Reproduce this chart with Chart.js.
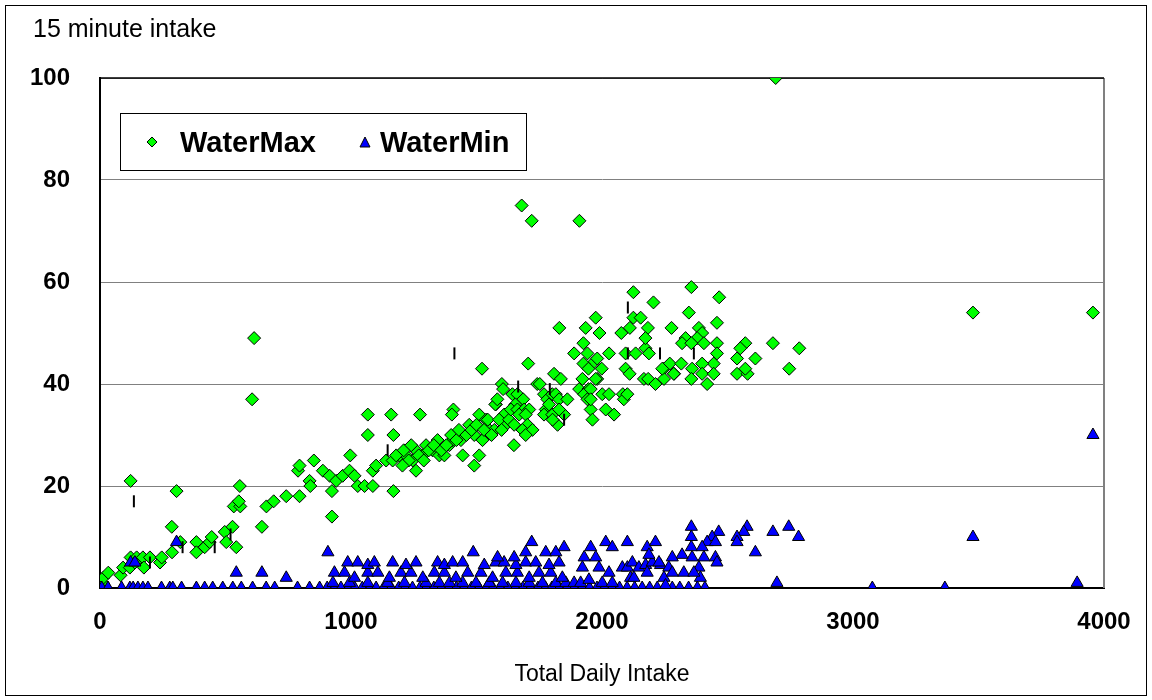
<!DOCTYPE html>
<html>
<head>
<meta charset="utf-8">
<script src="https://cdn.jsdelivr.net/npm/chart.js@4.4.1/dist/chart.umd.min.js"></script>
<style>
  html, body { margin: 0; padding: 0; background: #fff; }
  #wrap { position: relative; width: 1152px; height: 700px; font-family: "Liberation Sans", Arial, sans-serif; }
  #cadre { position: absolute; left: 5px; top: 5px; width: 1140px; height: 689px; border: 1px solid #000; pointer-events: none; }
  #titre { position: absolute; left: 33px; top: 14px; font-size: 25px; color: #000; }
  #legende { position: absolute; left: 120px; top: 113px; width: 405px; height: 56px; border: 1px solid #000; background: #fff;
             display: flex; align-items: center; font-weight: bold; font-size: 29px; color: #000; }
  #legende svg.m1 { margin-left: 25px; margin-right: 22px; }
  #legende svg.m2 { margin-left: 43px; margin-right: 9px; }
</style>
</head>
<body>
<div id="wrap">
  <canvas id="graf" width="1152" height="700"></canvas>
  <div id="cadre"></div>
  <div id="titre">15 minute intake</div>
  <div id="legende">
    <svg class="m1" width="12" height="12"><polygon points="6,1 11,6 6,11 1,6" fill="#00FF00" stroke="#000" stroke-width="1"/></svg>
    <span>WaterMax</span>
    <svg class="m2" width="12" height="12"><polygon points="6,1 11,11 1,11" fill="#0000FF" stroke="#000" stroke-width="1"/></svg>
    <span>WaterMin</span>
  </div>
</div>
<script>
// --- Datos --------------------------------------------------------------------

const X_TICKS = [0, 1000, 2000, 3000, 4000];
const Y_TICKS = [0, 20, 40, 60, 80, 100];

// WaterMax (rombos verdes)
const maxX = [
  10, 13, 33, 82, 92, 119, 122, 146, 171, 199, 139, 175, 122, 239, 246, 287, 286, 305, 320, 384,
  384, 417, 437, 445, 497, 503, 528, 543, 533, 559, 553, 557, 614, 606, 645, 663, 692, 742, 795, 789,
  795, 852, 888, 915, 835, 838, 924, 924, 941, 967, 994, 997, 1014, 1027, 1054, 1087, 1087, 1100, 1067, 1067,
  1160, 1169, 1169, 1275, 1408, 1402,
  1140, 1166, 1193, 1220, 1246, 1259, 1259, 1299, 1286, 1325, 1352, 1345, 1372, 1392, 1405, 1399, 1438, 1445, 1471, 1491,
  1511, 1491, 1524, 1511, 1538, 1551, 1571, 1577, 1617, 1610, 1649, 1180, 1210, 1230, 1270, 1310, 1330, 1360, 1380, 1420,
  1430, 1460, 1480, 1500, 1530, 1545, 1560, 1590, 1600, 1630, 1205, 1240, 1290,
  1522, 1706, 1601, 1606, 1742, 1575, 1583, 1643, 1663, 1686, 1655, 1637, 1663, 1690, 1710, 1670, 1696, 1703, 1650, 1683,
  1723, 1696, 1769, 1782, 1802, 1816, 1829, 1776, 1769, 1802, 1823, 1849, 1829, 1862, 1809, 1836, 1752, 1789, 1803,
  1889, 1926, 1942, 1962, 1981, 2028, 1926, 1946, 1999, 1981, 2094, 2110, 2094, 2134, 2173, 2187, 1909, 1946, 1975, 1929,
  1942, 1955, 1962, 2001, 2028, 2015, 2048, 2083, 2087, 2101, 1830, 1935, 1975, 1990, 2125, 2205, 2077, 2111, 2125, 2154,
  2183, 2173, 2277, 1680, 1720, 1910, 2692, 2247, 2270, 2287, 2316, 2167, 2184, 2213, 2247, 1922, 1955, 1955,
  2356, 2467, 2346, 2458, 2386, 2399, 2333, 2379, 2319, 2356, 2406, 2458, 2571, 2551, 2538, 2611, 2681, 2786, 2445, 2399,
  2359, 2240, 2286, 2356, 2399, 2419, 2458, 2445, 2538, 2580, 2571, 2746, 3478, 3956
];
const maxY = [
  1, 2, 3, 2.5, 4, 4, 6, 6, 6, 6, 5, 4, 21, 5, 6, 7, 12, 19, 9, 9,
  7, 8, 9, 10, 11, 9, 12, 8, 16, 16, 17, 20, 49, 37, 12, 16, 17, 18, 18, 23,
  24, 25, 23, 22, 21, 20, 19, 14, 21, 22, 23, 26, 22, 20, 20, 20, 23, 24, 34, 30,
  34, 30, 19, 34, 35, 34,
  25, 25, 26, 26, 25, 23, 27, 28, 26, 27, 26, 29, 26, 28, 29, 30, 29, 26, 32, 30,
  26, 24, 29, 34, 33, 31, 31, 36, 32, 34, 28, 26, 27, 25, 26, 27, 28, 27, 28, 29,
  31, 30, 31, 32, 31, 33, 30, 33, 31, 33, 24, 28, 25,
  43, 44, 40, 39, 40, 36, 37, 38, 38, 37, 36, 35, 35, 35, 35, 34, 34, 32, 32, 31,
  31, 30, 38, 37, 38, 38, 37, 35, 34, 34, 32, 34, 35, 37, 42, 41, 40, 36, 33,
  46, 48, 46, 44, 45, 46, 44, 43, 43, 41, 43, 42, 46, 46, 47, 46, 39, 39, 41, 38,
  37, 35, 33, 38, 38, 35, 34, 38, 37, 38, 51, 51, 53, 50, 58, 56, 50, 51, 53, 53,
  51, 49, 51, 75, 72, 72, 100, 43, 44, 42, 44, 41, 41, 40, 41, 41, 39, 37,
  59, 57, 54, 52, 51, 50, 49, 49, 48, 48, 48, 48, 48, 47, 45, 45, 48, 47, 44, 44,
  43, 43, 42, 41, 42, 40, 46, 42, 42, 42, 43, 43, 54, 54
];

// WaterMin (triángulos azules)
const minX = [
  7, 32, 86, 119, 132, 151, 171, 191, 245, 278, 290, 325, 384, 417, 449, 489, 529, 563, 608, 662,
  696, 787, 835, 875, 905, 935, 960, 990, 1015, 1045, 1075, 1100, 1130, 1160, 1190, 1215, 1245, 1275, 1300, 1330,
  1360, 1390, 1420, 1450, 1480, 1510, 1540, 1565, 1595, 1625, 1655, 1685, 1715, 1745, 1775, 1800, 1830, 1860, 1890, 1920,
  1950, 1980, 2010, 2040, 2070, 2100, 2130, 2160, 2190, 2220, 2250, 2280, 2310, 2345, 2380, 2410, 2697, 3077, 3366, 3893,
  928, 994, 1067, 1146, 1213, 1299, 1352, 1392, 1445, 1498, 1551, 1604, 1657, 1710, 1763, 1816, 1856, 1889, 1915, 2001, 2041,
  934, 974, 1014, 1067, 1107, 1153, 1199, 1239, 1286, 1332, 1372, 1418, 1465, 1518, 1564, 1617, 1663, 1710, 1749, 1796, 1842,
  987, 1027, 1067, 1093, 1166, 1219, 1259, 1345, 1372, 1405, 1445, 1531, 1577, 1610, 1657, 1696, 1736, 1789, 1829,
  122, 139, 305, 543, 645, 742, 908, 1487, 1720, 1849, 1776, 1816, 1584, 1650, 1696,
  2356, 2356, 2356, 2578, 2565, 2538, 2538, 2744, 2681, 2783, 2611, 2465, 2439, 2419, 2399, 2452, 2452, 2458, 2406, 2359,
  2319, 2280, 2326, 2386, 2392, 2366, 2101, 2180, 2213, 2015, 2041, 1955, 1929, 1975, 1922, 1988, 2028, 2081, 2101, 2121,
  2147, 2174, 2200, 2233, 2266, 2187, 2227, 1948, 2114, 2127, 2180, 2247, 2280, 2253, 3478, 3956
];
const minY = [
  0, 0, 0, 0, 0, 0, 0, 0, 0, 0, 0, 0, 0, 0, 0, 0, 0, 0, 0, 0,
  0, 0, 0, 0, 0, 0, 0, 0, 0, 0, 0, 0, 0, 0, 0, 0, 0, 0, 0, 0,
  0, 0, 0, 0, 0, 0, 0, 0, 0, 0, 0, 0, 0, 0, 0, 0, 0, 0, 0, 0,
  0, 0, 0, 0, 0, 0, 0, 0, 0, 0, 0, 0, 0, 0, 0, 0, 1, 0, 0, 1,
  1, 1, 1, 1, 1, 1, 1, 1, 1, 1, 1, 1, 1, 1, 1, 1, 1, 1, 1, 1, 1,
  3, 3, 2, 3, 3, 2, 3, 3, 2, 3, 3, 2, 3, 3, 2, 3, 3, 2, 3, 3, 2,
  5, 5, 4.5, 5, 5, 4.5, 5, 5, 4.5, 5, 5, 4.5, 5, 5, 4.5, 5, 5, 4.5, 5,
  5, 5, 9, 3, 3, 2, 7, 7, 9, 8, 7, 7, 6, 6, 7,
  12, 10, 8, 12, 11, 10, 9, 12, 11, 10, 7, 11, 10, 9, 8, 9, 6, 5, 6, 6,
  6.5, 6, 3, 4, 2, 3, 9, 8, 9, 9, 8, 8, 6, 6, 4, 4, 3, 4, 4, 5,
  4, 4.5, 5, 4.5, 4, 6.5, 5, 1.6, 2, 2, 3, 2, 3, 0.5, 10, 30
];

// Marcas verticales negras sueltas
const marcaX = [135, 199, 329, 457, 520, 1146, 1412, 1666, 1792, 1849, 2103, 2103, 2231, 2366];
const marcaY = [17, 5, 8, 8, 10.5, 27, 46, 39.5, 39, 33, 55, 46, 46, 46];

// --- Construcción ----------------------------------------------------------------

const puntos = (xs, ys) => xs.map((x, i) => ({ x: x, y: ys[i] }));
const FUENTE = '"Liberation Sans", Arial, sans-serif';

// marco: línea superior oscura y borde derecho gris
const marco = {
  id: 'marco',
  beforeDatasetsDraw(chart) {
    const { ctx, chartArea: a } = chart;
    ctx.save();
    ctx.strokeStyle = '#808080';
    ctx.lineWidth = 2;
    ctx.beginPath();
    ctx.moveTo(a.right, a.top);
    ctx.lineTo(a.right, a.bottom);
    ctx.stroke();
    ctx.strokeStyle = '#000';
    ctx.lineWidth = 1.5;
    ctx.beginPath();
    ctx.moveTo(a.left, a.top);
    ctx.lineTo(a.right, a.top);
    ctx.stroke();
    ctx.restore();
  }
};

new Chart(document.querySelector('#graf'), {
  type: 'scatter',
  data: {
    datasets: [
      {
        label: 'marcas',
        data: puntos(marcaX, marcaY),
        pointStyle: 'line',
        rotation: 90,
        radius: 6,
        borderColor: '#000',
        borderWidth: 2,
      },
      {
        label: 'WaterMin',
        data: puntos(minX, minY),
        pointStyle: 'triangle',
        radius: 7,
        backgroundColor: '#0000FF',
        borderColor: '#000',
        borderWidth: 1,
      },
      {
        label: 'WaterMax',
        data: puntos(maxX, maxY),
        pointStyle: 'rectRot',
        radius: 6.5,
        backgroundColor: '#00FF00',
        borderColor: '#000',
        borderWidth: 1,
      },
    ],
  },
  options: {
    responsive: false,
    animation: false,
    events: [],
    layout: { padding: { left: 0, top: 78, right: 48, bottom: 0 } },
    plugins: { legend: { display: false }, tooltip: { enabled: false } },
    scales: {
      x: {
        type: 'linear',
        min: X_TICKS[0],
        max: X_TICKS[X_TICKS.length - 1],
        afterBuildTicks: (s) => { s.ticks = X_TICKS.map((v) => ({ value: v })); },
        afterFit: (s) => { s.height = 112; },
        grid: { display: false, drawTicks: false },
        border: { color: '#000', width: 2 },
        ticks: {
          padding: 20,
          color: '#000',
          font: { family: FUENTE, size: 24, weight: 'bold' },
          callback: (v) => String(v),
        },
        title: {
          display: true,
          text: 'Total Daily Intake',
          color: '#000',
          font: { family: FUENTE, size: 23 },
          padding: { top: 0, bottom: 12 },
        },
      },
      y: {
        type: 'linear',
        min: Y_TICKS[0],
        max: Y_TICKS[Y_TICKS.length - 1],
        afterBuildTicks: (s) => { s.ticks = Y_TICKS.map((v) => ({ value: v })); },
        afterFit: (s) => { s.width = 100; },
        grid: { color: '#808080', lineWidth: 1, drawTicks: false },
        border: { color: '#000', width: 2 },
        ticks: {
          padding: 30,
          color: '#000',
          font: { family: FUENTE, size: 24, weight: 'bold' },
          callback: (v) => String(v),
        },
      },
    },
  },
  plugins: [marco],
});
</script>
</body>
</html>
